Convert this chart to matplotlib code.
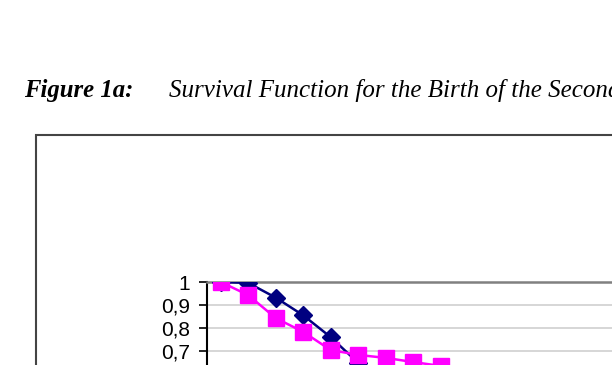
import matplotlib
matplotlib.use('Agg')
import matplotlib.pyplot as plt
from matplotlib.patches import Rectangle

# category positions along the x axis (durations)
navy_vals = [1.0, 0.996, 0.932, 0.855, 0.76, 0.648, 0.56]
pink_vals = [1.0, 0.943, 0.843, 0.783, 0.704, 0.683, 0.67, 0.652, 0.635]
ytick_vals = [0.7, 0.8, 0.9, 1.0]
ytick_labels = ['0,7', '0,8', '0,9', '1']

W, H = 612, 365
fig = plt.figure(figsize=(W / 100, H / 100), dpi=100)

# title line (runs off the right edge, as in the source page)
fig.text(24 / W, 1 - 97 / H, 'Figure 1a:', family='Liberation Serif',
         style='italic', weight='bold', fontsize=17.8, va='baseline')
fig.text(169 / W, 1 - 97 / H, 'Survival Function for the Birth of the Second Child',
         family='Liberation Serif', style='italic', fontsize=18, va='baseline')

# outer chart frame
frame = Rectangle((36 / W, -0.5), 1.2, 0.5 + 1 - 135 / H, transform=fig.transFigure,
                  fill=False, edgecolor='#444444', lw=1.5, clip_on=False)
fig.patches.append(frame)

# plot area: value 1 at y=282px, value 0 at y=512px (below the crop)
left, right = 207, 650
top, bottom = 282, 512
ax = fig.add_axes([left / W, 1 - bottom / H, (right - left) / W, (bottom - top) / H])
step = 27.5
ax.set_xlim(-0.5, -0.5 + (right - left) / step)
ax.set_ylim(0, 1)

ax.plot(range(len(navy_vals)), navy_vals, color='#000080', lw=1.8,
        marker='D', markersize=9, zorder=3)
ax.plot(range(len(pink_vals)), pink_vals, color='#ff00ff', lw=1.8,
        marker='s', markersize=11, zorder=4)

ax.set_yticks(ytick_vals)
ax.set_yticklabels(ytick_labels, family='Liberation Sans', fontsize=15)
ax.set_xticks([])
for v in ytick_vals[:-1]:
    ax.axhline(v, color='#d0d0d0', lw=1.2, zorder=1)
ax.tick_params(axis='y', length=5.5, width=1.2, pad=6.5)

ax.spines['right'].set_visible(False)
ax.spines['bottom'].set_visible(False)
ax.spines['top'].set_color('#808080')
ax.spines['top'].set_linewidth(1.8)
ax.spines['left'].set_color('black')
ax.spines['left'].set_linewidth(1.5)

fig.savefig('out.png', dpi=100)
